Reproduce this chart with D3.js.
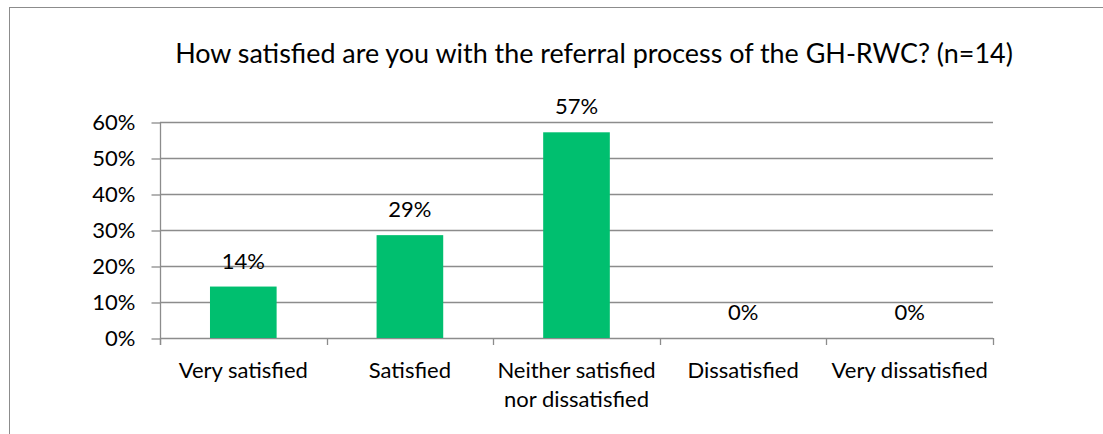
<!DOCTYPE html>
<html><head><meta charset="utf-8">
<script src="https://cdn.jsdelivr.net/npm/d3@7"></script>
<style>body{margin:0;background:#fff}svg{display:block}text{font-family:Lato,"Open Sans",sans-serif;fill:#000}</style>
</head><body><svg id="c" width="1103" height="434"></svg>
<script>
const title = "How satisfied are you with the referral process of the GH-RWC? (n=14)";
const categories = ["Very satisfied", "Satisfied", "Neither satisfied\nnor dissatisfied", "Dissatisfied", "Very dissatisfied"];
const values = [0.1429, 0.2857, 0.5714, 0, 0];
const valueLabels = ["14%", "29%", "57%", "0%", "0%"];
const yTicks = [0, 0.1, 0.2, 0.3, 0.4, 0.5, 0.6];

const svg = d3.select("#c");
const grid = "#8c8c8c";
const fs = 22;
const margin = {left: 160, right: 993, top: 122, bottom: 338};
svg.append("rect").attr("x", 9.5).attr("y", 7.5).attr("width", 1110).attr("height", 450)
  .attr("fill", "#fff").attr("stroke", grid).attr("stroke-width", 1);

const x = d3.scaleBand().domain(categories).range([margin.left, margin.right]).paddingInner(0).paddingOuter(0);
const y = d3.scaleLinear().domain([0, 0.6]).range([margin.bottom, margin.top]);

// title
const t = svg.append("text").attr("x", 594).attr("y", 63).attr("text-anchor", "middle").attr("font-size", 24).text(title);
const tw = t.node().getComputedTextLength();
t.attr("font-size", 24 * 838 / tw);

// gridlines
svg.append("g").selectAll("line").data(yTicks).join("line")
  .attr("x1", margin.left).attr("x2", margin.right)
  .attr("y1", d => Math.round(y(d)) + 0.5).attr("y2", d => Math.round(y(d)) + 0.5)
  .attr("stroke", grid).attr("stroke-width", 1.3);

// y axis
const ya = svg.append("g").attr("transform", `translate(${margin.left + 0.5},0.5)`)
  .call(d3.axisLeft(y).tickValues(yTicks).tickFormat(d3.format(".0%")).tickSize(9).tickPadding(16));
ya.select(".domain").remove();
ya.selectAll(".tick line").attr("stroke", grid).attr("stroke-width", 1.3);
ya.selectAll(".tick text").attr("font-size", fs).attr("font-family", "Lato").attr("fill", "#000");
svg.append("line").attr("x1", margin.left + 0.5).attr("x2", margin.left + 0.5)
  .attr("y1", margin.top).attr("y2", margin.bottom + 7).attr("stroke", grid).attr("stroke-width", 1.3);

// x ticks
const bounds = categories.map(c => x(c)).concat([margin.right]);
svg.append("g").selectAll("line").data(bounds).join("line")
  .attr("x1", d => Math.round(d) + 0.5).attr("x2", d => Math.round(d) + 0.5)
  .attr("y1", margin.bottom).attr("y2", margin.bottom + 7)
  .attr("stroke", grid).attr("stroke-width", 1.3);

// bars
const bw = x.bandwidth() * 0.4;
svg.append("g").selectAll("rect").data(values).join("rect")
  .attr("x", (d, i) => x(categories[i]) + (x.bandwidth() - bw) / 2)
  .attr("width", bw)
  .attr("y", d => y(d))
  .attr("height", d => y(0) - y(d))
  .attr("fill", "#00bf6f");

// value labels
svg.append("g").selectAll("text").data(values).join("text")
  .attr("x", (d, i) => x(categories[i]) + x.bandwidth() / 2)
  .attr("y", d => y(d) - 18)
  .attr("text-anchor", "middle").attr("font-size", fs)
  .text((d, i) => valueLabels[i]);

// category labels
const cl = svg.append("g").selectAll("text").data(categories).join("text")
  .attr("x", d => x(d) + x.bandwidth() / 2)
  .attr("y", 378).attr("text-anchor", "middle").attr("font-size", fs);
cl.each(function(d) {
  const lines = d.split("\n");
  d3.select(this).selectAll("tspan").data(lines).join("tspan")
    .attr("x", x(d) + x.bandwidth() / 2).attr("dy", (l, i) => i ? 29 : 0).text(l => l);
});
</script></body></html>
